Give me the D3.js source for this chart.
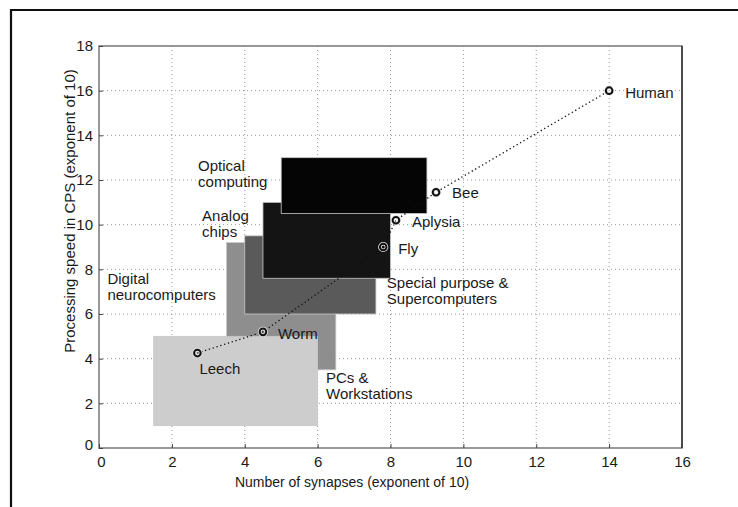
<!DOCTYPE html>
<html lang="en">
<head>
    <meta charset="UTF-8">
    <title>Synapses vs processing speed</title>
    <script src="https://cdn.jsdelivr.net/npm/d3@7"></script>
    <style>
        body { margin: 0; background: #fff; }
        svg text { font-family: "Liberation Sans", Arial, sans-serif; fill: #1a1a1a; }
    </style>
</head>
<body>
<div class="chart"></div>

<script type="text/javascript">
    // technology regions: x range / y range in exponent of 10
    var regionNames = ['Digital', 'PCs', 'Special', 'Analog', 'Optical'];
    var regionX0 = [3.5, 1.5, 4.0, 4.5, 5.0];
    var regionX1 = [6.5, 6.0, 7.6, 8.0, 9.0];
    var regionY0 = [3.5, 1.0, 6.0, 7.6, 10.5];
    var regionY1 = [9.2, 5.0, 9.5, 11.0, 13.0];
    var regionFill = ['#8e8e8e', '#cdcdcd', '#5a5a5a', '#141414', '#050505'];

    // animals
    var animals = ['Leech', 'Worm', 'Fly', 'Aplysia', 'Bee', 'Human'];
    var synapses = [2.7, 4.5, 7.8, 8.15, 9.25, 14];
    var speed = [4.25, 5.2, 9.0, 10.2, 11.45, 16];

    // region captions (data coords of the first line)
    var captions = [
        ['Optical', 'computing'],
        ['Analog', 'chips'],
        ['Digital', 'neurocomputers'],
        ['Special purpose &', 'Supercomputers'],
        ['PCs &', 'Workstations']
    ];
    var captionX = [2.72, 2.83, 0.23, 7.9, 6.23];
    var captionY = [12.42, 10.17, 7.35, 7.15, 2.93];

    var xTicks = [0, 2, 4, 6, 8, 10, 12, 14, 16];
    var yTicks = [0, 2, 4, 6, 8, 10, 12, 14, 16, 18];

    var w = 738, h = 507;
    var mLeft = 99, mRight = 682, mTop = 46, mBottom = 448;

    var svg = d3.select('.chart').append('svg')
            .attr('width', w)
            .attr('height', h);

    // outer frame of the figure
    svg.append('path')
            .attr('d', 'M11,507 L11,10 L738,10')
            .attr('fill', 'none')
            .attr('stroke', '#111')
            .attr('stroke-width', 2.2);

    var x = d3.scaleLinear().domain([0, 16]).range([mLeft, mRight]);
    var y = d3.scaleLinear().domain([0, 18]).range([mBottom, mTop]);

    // dotted grid
    svg.append('g').selectAll('line')
            .data(xTicks.slice(1, -1))
            .enter().append('line')
            .attr('x1', function(d) { return x(d); })
            .attr('x2', function(d) { return x(d); })
            .attr('y1', mTop)
            .attr('y2', mBottom)
            .attr('stroke', '#999')
            .attr('stroke-dasharray', '1,3');
    svg.append('g').selectAll('line')
            .data(yTicks.slice(1, -1))
            .enter().append('line')
            .attr('x1', mLeft)
            .attr('x2', mRight)
            .attr('y1', function(d) { return y(d); })
            .attr('y2', function(d) { return y(d); })
            .attr('stroke', '#999')
            .attr('stroke-dasharray', '1,3');

    // regions
    svg.append('g').selectAll('rect')
            .data(regionNames)
            .enter().append('rect')
            .attr('x', function(d, i) { return x(regionX0[i]); })
            .attr('y', function(d, i) { return y(regionY1[i]); })
            .attr('width', function(d, i) { return x(regionX1[i]) - x(regionX0[i]); })
            .attr('height', function(d, i) { return y(regionY0[i]) - y(regionY1[i]); })
            .attr('fill', function(d, i) { return regionFill[i]; })
            .attr('stroke', '#c8c8c8')
            .attr('stroke-width', 0.8);

    // dotted line through the animals
    var line = d3.line()
            .x(function(d, i) { return x(synapses[i]); })
            .y(function(d, i) { return y(speed[i]); });
    svg.append('path')
            .datum(animals)
            .attr('d', line)
            .attr('fill', 'none')
            .attr('stroke', '#111')
            .attr('stroke-width', 1.3)
            .attr('stroke-dasharray', '1.3,2.7');

    // light halo so markers show on the dark boxes
    svg.append('g').selectAll('circle')
            .data(animals)
            .enter().append('circle')
            .attr('cx', function(d, i) { return x(synapses[i]); })
            .attr('cy', function(d, i) { return y(speed[i]); })
            .attr('r', 3.3)
            .attr('fill', 'none')
            .attr('stroke', '#e4e4e4')
            .attr('stroke-width', 3.6);
    svg.append('g').selectAll('circle')
            .data(animals)
            .enter().append('circle')
            .attr('cx', function(d, i) { return x(synapses[i]); })
            .attr('cy', function(d, i) { return y(speed[i]); })
            .attr('r', 3.3)
            .attr('fill', 'none')
            .attr('stroke', '#111')
            .attr('stroke-width', 2);

    // animal labels, offsets from their points
    var labelDx = [2, 15, 15, 16, 16, 16];
    var labelDy = [21, 7, 7, 7, 6, 7];
    svg.append('g').selectAll('text')
            .data(animals)
            .enter().append('text')
            .attr('x', function(d, i) { return x(synapses[i]) + labelDx[i]; })
            .attr('y', function(d, i) { return y(speed[i]) + labelDy[i]; })
            .attr('font-size', 15)
            .text(function(d) { return d; });

    // region captions
    captions.forEach(function(c, i) {
        svg.append('text')
                .attr('x', x(captionX[i]))
                .attr('y', y(captionY[i]))
                .attr('font-size', 15)
                .selectAll('tspan')
                .data(c)
                .enter().append('tspan')
                .attr('x', x(captionX[i]))
                .attr('dy', function(d, j) { return j === 0 ? 0 : 16; })
                .text(function(d) { return d; });
    });

    // axes box
    svg.append('rect')
            .attr('x', mLeft)
            .attr('y', mTop)
            .attr('width', mRight - mLeft)
            .attr('height', mBottom - mTop)
            .attr('fill', 'none')
            .attr('stroke', '#777')
            .attr('stroke-width', 1.5);
    svg.append('line')
            .attr('x1', mRight).attr('x2', mRight)
            .attr('y1', mTop).attr('y2', mBottom)
            .attr('stroke', '#333').attr('stroke-width', 1.5);

    var xAxis = svg.append('g')
            .attr('transform', 'translate(0,' + mBottom + ')')
            .call(d3.axisBottom(x).tickValues(xTicks).tickSizeInner(-4).tickSizeOuter(0).tickPadding(8));
    var yAxis = svg.append('g')
            .attr('transform', 'translate(' + mLeft + ',0)')
            .call(d3.axisLeft(y).tickValues(yTicks).tickSizeInner(-4).tickSizeOuter(0).tickPadding(6));
    [xAxis, yAxis].forEach(function(a) {
        a.select('.domain').remove();
        a.selectAll('line').attr('stroke', '#444');
        a.selectAll('text')
                .attr('font-size', 15)
                .attr('font-family', '"Liberation Sans", Arial, sans-serif')
                .attr('fill', '#1a1a1a');
    });
    xAxis.selectAll('.tick').filter(function(d) { return d === 0; })
            .select('text').attr('dx', 2);
    yAxis.selectAll('.tick').filter(function(d) { return d === 0; })
            .select('text').attr('dy', '0.1em');

    svg.append('text')
            .attr('x', 352)
            .attr('y', 487)
            .attr('text-anchor', 'middle')
            .attr('font-size', 14)
            .text('Number of synapses (exponent of 10)');

    svg.append('text')
            .attr('transform', 'translate(75,211) rotate(-90)')
            .attr('text-anchor', 'middle')
            .attr('font-size', 15)
            .text('Processing speed in CPS (exponent of 10)');
</script>
</body>
</html>
